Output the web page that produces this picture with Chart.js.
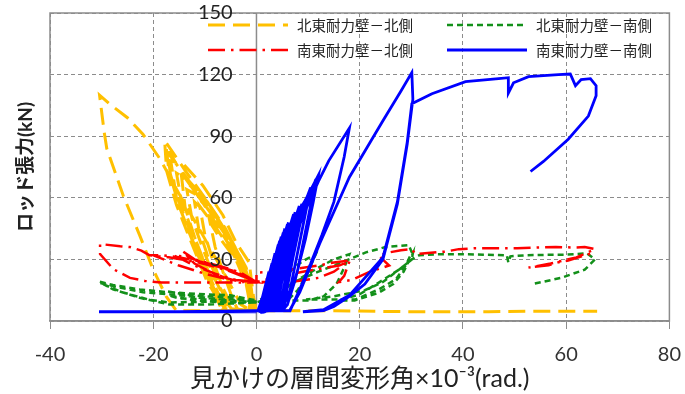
<!DOCTYPE html>
<html lang="ja">
<head>
<meta charset="utf-8">
<script src="https://cdn.jsdelivr.net/npm/chart.js@4.4.1/dist/chart.umd.min.js"></script>
<style>
    html, body { margin: 0; padding: 0; background: #fff; }
    #wrap { width: 685px; height: 394px; }
</style>
</head>
<body>
<div id="wrap"><canvas id="rodChart" width="685" height="394"></canvas></div>
<script>
// axis ticks
var xTicks = [-40, -20, 0, 20, 40, 60, 80];
var yTicks = [0, 30, 60, 90, 120, 150];

var seriesNames = ['北東耐力壁－北側', '北東耐力壁－南側', '南東耐力壁－北側', '南東耐力壁－南側'];

// [drift x10^-3 rad, rod tension kN]
var neNorth = [
    [0,5],[-1,17],[-2.5,28],[-6,45],[-10,60],[-14,74],[-17.8,88],[-17.4,73],[-15.5,56.5],[-12.9,40],[-9.7,20],[-7.1,9],[-6.5,5],[-2,5],
    [-0.5,5],[-1,16],[-2,26],[-5,40],[-9,55],[-13,68],[-17.2,82],[-16.6,70],[-15,56],[-12.5,40],[-10,25],[-7.5,12],[-6,5],[-1.5,5],
    [-1,12],[-3,27],[-6.5,42],[-10.5,58],[-14.5,72],[-17.5,85],[-17,74],[-15,58],[-12,38],[-9,18],[-7,7],[-6.5,5],[-1,5],
    [-0.5,10],[-1.4,28.5],[-3.9,38],[-6.5,51.5],[-10.4,66],[-14,76],[-16.6,78],[-15.5,60],[-13.5,46],[-11,30],[-8.5,16],[-6,6],[-1,5],
    [-1,14],[-3,30],[-6,44],[-9.5,58],[-13,68],[-15.5,72],[-14.5,58],[-12.5,44],[-10,28],[-7.5,14],[-5.5,5],[-1,5],
    [-2,24],[-5.5,40],[-9,53],[-12.5,65],[-14.5,70],[-13.8,55],[-12,41],[-9.5,24],[-7,10],[-5,5],[-1,5],
    [-2,22],[-5,38],[-8.5,52],[-12,62],[-13.5,64],[-12.5,50],[-10.5,36],[-8,20],[-5.5,8],[-4.5,5],[-1,5],
    [-2.5,26],[-6,40],[-9.5,52],[-12,58],[-11.2,45],[-9.5,32],[-7,16],[-5,6],[-1,5],
    [-2,20],[-5,35],[-8,46],[-11,56],[-10,42],[-8.5,30],[-6.5,16],[-4.5,6],[-1,5],
    [-2,18],[-4,30],[-7,40],[-9,48],[-8,36],[-6.5,24],[-4.5,10],[-3.5,5],[-1,5],
    [-3,8],[-6,22],[-10,40],[-15,62],[-18.7,79],[-22,91],[-25,99],[-28.4,105.6],[-30.4,110],[-29.5,92],[-29,84],
    [-25.8,61],[-22.6,41.6],[-20,25],[-17.5,12],[-15.5,5],[-8,5],[0,5],[15,5],[30,4.5],[45,4.5],[55,4.8],[66,4.8]
];

var neSouth = [
    [0,9],[-5,10],[-10,10.5],[-15,11],[-17,12.5],[-12,10],[-6,9],[0,9],
    [-5,11.5],[-10,12],[-14,13],[-17.4,14.5],[-12,11.5],[-6,10.5],[0,10],
    [-5,12.5],[-10,13],[-17,14],[-22.6,15.4],[-27.8,17.5],[-30.5,19.2],[-27.8,15.4],[-22.6,11.3],[-16.8,8],[-10,8],[-5,8.5],[0,9],
    [-8,11],[-17,13],[-22,14],[-26,16],[-30.3,18.5],[-26,14],[-21,10.5],[-17,9],[-8,9.5],[0,9.5],
    [2,12],[4,17],[5.7,22],[7.7,27],[9.6,30],[11.5,32.6],[10,24],[8,15],[6,10],[3,9],[0,9],
    [4,13],[8,20],[12,26],[15,30],[18,32.5],[17,26],[15.5,18],[13,12],[10,10],[6,10],[3,9.5],
    [7,18.7],[12,24],[16,28],[21.2,33.4],[25,36],[29.5,37],[30.1,33.4],[28.9,27],[27,20.3],[23.7,15.4],[19.2,10.5],[14.7,10.5],[9.6,10.5],
    [15,12],[21,15],[24.5,19],[27.6,25],[30.1,30],[30.3,33],[28.5,24],[26.5,18],[23.7,13.8],[19,10],[16,10],
    [20,13],[23.7,18.7],[27.6,25],[30.1,30],[31.5,32],[35,32.5],[40,32.5],[44,32.3],[48.5,32],[48.8,28.5],[49.2,31.5],
    [52,32],[56,32.2],[60,32.3],[62,32.6],[64,33],[65.6,30],[63.6,25],[59,21],[53.3,17.9]
];

var seNorth = [
    [0,19],[-3,23.5],[-6,26],[-9,28],[-12,30],[-14.3,34],[-12,28],[-9,24],[-6,21],[-3,19],[0,19],
    [-4,24],[-8,27],[-11,29],[-13,31],[-16,32],[-12,27],[-8,23],[-4,20],[0,19],
    [-5,24.5],[-10,28.5],[-15,31],[-18,32],[-20,32],[-15,27],[-10,23],[-5,20],[0,19],
    [-6,25],[-12,29],[-17,31],[-20.7,32],[-22.3,34.3],[-24.5,36],[-26.4,36.4],[-30.3,37.5],[-30.3,32.6],[-27.7,25.2],
    [-24.5,21],[-21.6,19.5],[-18.4,18.7],[-10,18.7],[0,18.7],
    [0,23.6],[4,24],[8,25.5],[12,27],[15,28.5],[18,29.4],[15,24],[12,21],[8,19.5],[4,19],[0,19],
    [5,22],[10,24.5],[16,27],[18,29],[17,22],[16,19],[18.5,20],[22,24],[25.7,27],[23.7,31.8],[25.7,33.4],[28,34.5],[30.1,35],
    [30.8,32.6],[36.6,33.8],[39.2,35],[42.1,35.4],[46,35.4],[50.5,35.4],[54.3,35.8],[58,36],[61.7,35.8],[63.6,36],[65.6,35],
    [62,31],[57,28],[52.7,26],[56.6,27.2],[58.5,28.6],[60.4,29.4],[63,31.5],[65.6,33.5]
];

var seSouth = [
    [0,4.5],[-15,4.5],[-30.5,4.5],[-15,4.6],[0,5],
    [0.3,5],[1.2,12],[0.8,5],[0.5,5],[1.8,18],[1,5],[0.6,5],[2.4,24],[1.3,5],[0.7,5],[3,28],[1.6,5],
    [0.9,5],[3.3,30],[1.8,5],[1,5],[4.5,39],[2.5,6],[1.2,5],[5.2,43],[3,7],[1.3,5],[6,47],[3.4,8],
    [0.8,5],[3.6,33],[2,6],[1,5],[4.2,37],[2.3,6],[1,5],[4.8,41],[2.7,7],[1.1,5],[5.5,45],[3.1,8],[1.2,5],
    [6.2,48],[3.6,9],[1.4,5],[7.2,52],[4.2,9],[1.6,5],[8.3,56],[4.8,10],[1.8,5],
    [7.5,53],[4,8],[1.7,5],[8.8,57],[5,9],[2,5],
    [5.8,42],[7.8,50],[6.5,35],[4.5,15],[3.5,6],[1.2,5],
    [6.8,46],[9,55],[8,42],[6,22],[4.5,8],[1.5,5],
    [10.5,65],[8.5,40],[6.5,15],[5,6],[2.5,5],
    [11.5,69],[10,50],[8,25],[6,8],[2,5],
    [9.5,59],[8.5,48],[7,30],[5.5,10],[4.5,5],[2,5],
    [5,40],[9.5,59],[12,71],[11,58],[9.5,40],[7.5,20],[6,8],[5,5],[3,5],
    [7,40],[12,68],[14,78],[18,94],[17,80],[15,58],[12.7,42],[10.5,28],[8.3,15],[6.5,5],[4,5],
    [6.4,5],[8.4,14],[12.3,38],[18,70],[24.5,97.5],[28,112],[30.1,121],[30.3,108],[29.2,86],[27.3,57],[24.5,30],
    [21,18],[18,12],[15,7],[13,5],[9,4.5],[13,5.5],[18,12.5],[24.5,31],[27.3,58],[29.2,87],[30.1,105.8],
    [34,110.7],[40.5,116.6],[46.9,118],[48.8,118.5],[48.8,111],[49.8,116],[52.7,119],[58.5,120],[60.8,120.3],
    [61.8,114.6],[62.9,117.6],[64.7,118],[65.8,114.6],[65.8,109.7],[64.3,99.8],[60.4,88.5],[55.6,77.7],[53.1,72.8]
];

// y tick labels end a little left of the x=0 axis line
var yLabelAnchor = -4.6;

function toPoints(list) {
    return list.map(function (p) { return { x: p[0], y: p[1] }; });
}

Chart.defaults.font.family = "Lato, 'Noto Sans CJK JP', sans-serif";
Chart.defaults.color = '#222';

// frame round the plot area, plus the solid axis line at x = 0
var framePlugin = {
    id: 'frame',
    beforeDatasetsDraw: function (chart) {
        var a = chart.chartArea, ctx = chart.ctx;
        var x0 = chart.scales.x.getPixelForValue(0);
        ctx.save();
        ctx.strokeStyle = '#8c8c8c';
        ctx.lineWidth = 1.5;
        ctx.strokeRect(a.left, a.top, a.right - a.left, a.bottom - a.top);
        ctx.beginPath();
        ctx.moveTo(x0, a.top);
        ctx.lineTo(x0, a.bottom);
        ctx.stroke();
        ctx.restore();
    }
};

// 2x2 legend inside the plot, top right
var legendPlugin = {
    id: 'cornerLegend',
    afterDatasetsDraw: function (chart) {
        var a = chart.chartArea, ctx = chart.ctx;
        ctx.save();
        ctx.font = "14.5px 'Noto Sans CJK JP', sans-serif";
        ctx.textBaseline = 'middle';
        ctx.fillStyle = '#222';
        chart.data.datasets.forEach(function (ds, k) {
            var col = k % 2, row = Math.floor(k / 2);
            var x0 = a.left + (col ? 397 : 158);
            var y = a.top + 12 + row * 25;
            ctx.beginPath();
            ctx.setLineDash(ds.borderDash || []);
            ctx.strokeStyle = ds.borderColor;
            ctx.lineWidth = ds.borderWidth;
            ctx.moveTo(x0, y);
            ctx.lineTo(x0 + 80, y);
            ctx.stroke();
            ctx.setLineDash([]);
            ctx.fillText(ds.label, x0 + 89, y);
        });
        ctx.restore();
    }
};

var ctx = document.getElementById('rodChart').getContext('2d');

new Chart(ctx, {
    type: 'scatter',
    data: {
        datasets: [{
            label: seriesNames[0],
            data: toPoints(neNorth),
            borderColor: '#FFC000',
            borderWidth: 3,
            borderDash: [17, 8],
            order: 3
        }, {
            label: seriesNames[1],
            data: toPoints(neSouth),
            borderColor: '#13901a',
            borderWidth: 2.5,
            borderDash: [6, 4],
            order: 2
        }, {
            label: seriesNames[2],
            data: toPoints(seNorth),
            borderColor: '#FF0000',
            borderWidth: 2.5,
            borderDash: [17, 6, 2.5, 6],
            order: 1
        }, {
            label: seriesNames[3],
            data: toPoints(seSouth),
            borderColor: '#0000FF',
            borderWidth: 2.8,
            order: 0
        }].map(function (ds) {
            ds.showLine = true;
            ds.pointRadius = 0;
            ds.fill = false;
            ds.tension = 0;
            ds.xAxisID = 'x';
            ds.yAxisID = 'y';
            return ds;
        })
    },
    options: {
        responsive: false,
        animation: false,
        layout: { padding: { left: 14, right: 14, top: 13, bottom: 0 } },
        plugins: {
            legend: { display: false },
            tooltip: { enabled: false }
        },
        scales: {
            x: {
                type: 'linear',
                position: 'bottom',
                min: xTicks[0],
                max: xTicks[xTicks.length - 1],
                ticks: { stepSize: xTicks[1] - xTicks[0], padding: 4, color: '#333', font: { size: 20, lineHeight: 2.15 } },
                grid: { color: '#8c8c8c', tickLength: 8, tickColor: '#8c8c8c' },
                border: { color: '#8c8c8c', width: 1.5, dash: [4, 3] },
                title: {
                    display: true,
                    text: '見かけの層間変形角×10⁻³(rad.)',
                    color: '#222',
                    font: { size: 25, lineHeight: 1 },
                    padding: { top: -14, bottom: 3 }
                }
            },
            y: {
                type: 'linear',
                position: { x: yLabelAnchor },
                min: yTicks[0],
                max: yTicks[yTicks.length - 1],
                ticks: { stepSize: yTicks[1] - yTicks[0], padding: 0, color: '#222', font: { size: 20 }, z: 1 },
                grid: { color: '#8c8c8c', drawTicks: false },
                border: { display: false, dash: [4, 3] },
                // labels sit inside the plot, so they need no extra room above/below
                afterFit: function (scale) {
                    scale.paddingTop = 0;
                    scale.paddingBottom = 0;
                }
            },
            yt: {
                type: 'linear',
                position: 'left',
                min: yTicks[0],
                max: yTicks[yTicks.length - 1],
                ticks: { display: false },
                grid: { display: false },
                border: { display: false },
                title: {
                    display: true,
                    text: 'ロッド張力(kN)',
                    color: '#222',
                    font: { size: 19, weight: 'bold' },
                    padding: { top: 0, bottom: 5.2 }
                }
            }
        }
    },
    plugins: [framePlugin, legendPlugin]
});
</script>
</body>
</html>
